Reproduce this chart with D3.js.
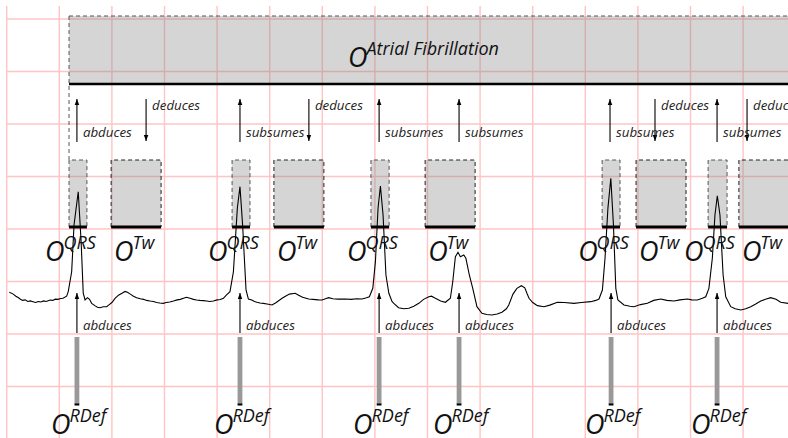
<!DOCTYPE html>
<html><head><meta charset="utf-8">
<script src="https://cdn.jsdelivr.net/npm/d3@7"></script>
<style>body{margin:0;background:#fff} svg{display:block}</style>
</head><body>
<svg id="c" width="788" height="438"></svg>
<script>
// ---- data (time in ms, amplitude in mV) ----
const ecgSamples = [[10,-0.103],[25,-0.12],[35,-0.14],[45,-0.155],[51,-0.167],[60,-0.18],[70,-0.175],[80,-0.19],[90,-0.185],[100,-0.192],[110,-0.2],[120,-0.19],[130,-0.195],[140,-0.185],[150,-0.19],[165,-0.176],[175,-0.18],[185,-0.168],[195,-0.17],[205,-0.162],[214,-0.16],[228,-0.14],[234,-0.097],[247,0.093],[256,0.538],[272,0.855],[283,0.379],[291,-0.11],[298,-0.176],[307,-0.154],[315,-0.17],[323,-0.208],[335,-0.23],[345,-0.245],[355,-0.25],[367,-0.24],[380,-0.24],[390,-0.22],[400,-0.2],[412,-0.16],[425,-0.13],[440,-0.11],[450,-0.095],[459,-0.103],[470,-0.12],[482,-0.14],[494,-0.154],[508,-0.165],[520,-0.17],[532,-0.18],[545,-0.186],[558,-0.19],[570,-0.2],[582,-0.205],[595,-0.208],[607,-0.2],[620,-0.195],[634,-0.186],[648,-0.175],[660,-0.17],[672,-0.16],[684,-0.15],[697,-0.16],[710,-0.17],[722,-0.176],[735,-0.18],[748,-0.182],[760,-0.186],[772,-0.19],[786,-0.186],[800,-0.175],[812,-0.172],[824,-0.16],[835,-0.13],[849,-0.097],[862,0.093],[877,0.7],[887,0.903],[897,0.538],[910,-0.081],[919,-0.167],[932,-0.176],[942,-0.19],[951,-0.198],[963,-0.205],[976,-0.208],[990,-0.215],[1009,-0.224],[1025,-0.2],[1047,-0.16],[1060,-0.14],[1075,-0.12],[1097,-0.112],[1110,-0.13],[1125,-0.15],[1148,-0.167],[1165,-0.17],[1185,-0.175],[1199,-0.176],[1212,-0.165],[1224,-0.154],[1240,-0.165],[1260,-0.168],[1288,-0.167],[1310,-0.17],[1330,-0.165],[1351,-0.167],[1368,-0.155],[1379,-0.145],[1392,-0.065],[1402,0.189],[1412,0.7],[1421,0.91],[1431,0.633],[1442,0.062],[1453,-0.112],[1465,-0.19],[1472,-0.208],[1490,-0.25],[1510,-0.26],[1529,-0.255],[1548,-0.235],[1567,-0.208],[1585,-0.17],[1605,-0.145],[1615,-0.14],[1630,-0.16],[1650,-0.185],[1668,-0.198],[1687,-0.16],[1696,-0.002],[1706,0.236],[1716,0.278],[1725,0.236],[1738,0.252],[1746,0.221],[1759,0.062],[1772,-0.065],[1788,-0.24],[1807,-0.303],[1825,-0.315],[1845,-0.319],[1865,-0.31],[1883,-0.293],[1900,-0.26],[1909,-0.224],[1925,-0.12],[1940,-0.065],[1957,-0.04],[1970,-0.06],[1978,-0.112],[1986,-0.16],[2000,-0.2],[2018,-0.23],[2043,-0.24],[2065,-0.225],[2094,-0.198],[2120,-0.2],[2157,-0.208],[2185,-0.2],[2221,-0.192],[2240,-0.18],[2252,-0.167],[2265,-0.081],[2275,0.221],[2286,0.697],[2297,0.983],[2307,0.538],[2316,-0.065],[2324,-0.176],[2347,-0.224],[2370,-0.235],[2385,-0.24],[2410,-0.22],[2436,-0.208],[2460,-0.18],[2487,-0.167],[2510,-0.18],[2537,-0.186],[2560,-0.175],[2588,-0.167],[2605,-0.175],[2626,-0.176],[2645,-0.16],[2658,-0.145],[2670,-0.065],[2683,0.221],[2693,0.633],[2702,0.817],[2712,0.633],[2724,0.062],[2734,-0.145],[2753,-0.24],[2770,-0.26],[2791,-0.271],[2810,-0.26],[2829,-0.24],[2848,-0.215],[2867,-0.186],[2885,-0.17],[2905,-0.154],[2925,-0.17],[2943,-0.198],[2971,-0.208]];

const qrsStart = [237, 857, 1385, 2264, 2667];
const qrsEnd   = [305, 925, 1454, 2332, 2739];
const twStart  = [397, 1016, 1591, 2393, 2784];
const twEnd    = [587, 1206, 1781, 2583, 2975];
const afSpan   = [237, 3000];
const afName   = "Atrial Fibrillation";

const upArrowTime  = [267, 887, 1416, 1720, 2294, 2701];
const upArrowLabel = ["abduces", "subsumes", "subsumes", "subsumes", "subsumes", "subsumes"];
const downArrowTime  = [530, 1149, 2465, 2815];
const downArrowLabel = ["deduces", "deduces", "deduces", "deduces"];
const rdefTime  = [267, 887, 1416, 1720, 2298, 2701];
const rdefArrowLabel = "abduces";

const gridTimes = d3.range(0, 3000, 200);
const gridMv = [-1.5, -1, -0.5, 0, 0.5, 1, 1.5, 2, 2.5];

// ---- scales ----
const x = d3.scaleLinear().domain([0, 3000]).range([6.7, 795.7]);
const y = d3.scaleLinear().domain([0, 0.5]).range([281.5, 229]);

const svg = d3.select("#c");
const FONT = "'Open Sans', 'DejaVu Sans', sans-serif";

// arrow marker
const defs = svg.append("defs");
defs.append("marker").attr("id", "ah").attr("viewBox", "0 0 8 8")
  .attr("refX", 8).attr("refY", 4).attr("markerWidth", 7).attr("markerHeight", 6)
  .attr("markerUnits", "userSpaceOnUse").attr("orient", "auto")
  .append("path").attr("d", "M0,1 L8,4 L0,7 z").attr("fill", "#000");

// ---- grid ----
const grid = svg.append("g").attr("stroke", "#ffc4c4").attr("stroke-width", 1.4);
grid.selectAll("line.v").data(gridTimes).join("line").attr("class", "v")
  .attr("x1", d => x(d)).attr("x2", d => x(d)).attr("y1", 6).attr("y2", 438);
grid.selectAll("line.h").data(gridMv).join("line").attr("class", "h")
  .attr("x1", x(0)).attr("x2", 788).attr("y1", d => y(d)).attr("y2", d => y(d));

// ---- AF box ----
const afTop = 16, afBottom = 84;
svg.append("rect").attr("x", x(afSpan[0])).attr("y", afTop)
  .attr("width", x(afSpan[1]) - x(afSpan[0])).attr("height", afBottom - afTop)
  .attr("fill", "#808080").attr("fill-opacity", 0.33);
svg.append("line").attr("x1", x(afSpan[0])).attr("x2", x(afSpan[1])).attr("y1", afTop).attr("y2", afTop)
  .attr("stroke", "#555").attr("stroke-dasharray", "4,3");
svg.append("line").attr("x1", x(afSpan[0])).attr("x2", x(afSpan[0])).attr("y1", afTop).attr("y2", 160)
  .attr("stroke", "#555").attr("stroke-dasharray", "4,3");
svg.append("line").attr("x1", x(afSpan[0])).attr("x2", x(afSpan[1])).attr("y1", afBottom).attr("y2", afBottom)
  .attr("stroke", "#000").attr("stroke-width", 2.6);

// ---- QRS / Tw boxes ----
const boxTop = 160, boxBottom = 227;
const boxes = [];
qrsStart.forEach((s, i) => boxes.push({s, e: qrsEnd[i], type: "QRS"}));
twStart.forEach((s, i) => boxes.push({s, e: twEnd[i], type: "Tw"}));
const bg = svg.append("g");
bg.selectAll("rect").data(boxes).join("rect")
  .attr("x", d => x(d.s)).attr("y", boxTop).attr("width", d => x(d.e) - x(d.s)).attr("height", boxBottom - boxTop)
  .attr("fill", "#808080").attr("fill-opacity", 0.33);
bg.selectAll("path.b").data(boxes).join("path").attr("class", "b")
  .attr("d", d => `M${x(d.s)},${boxBottom}V${boxTop}H${x(d.e)}V${boxBottom}`)
  .attr("fill", "none").attr("stroke", d => d.type === "QRS" ? "#555" : "#222")
  .attr("stroke-dasharray", "4,3");
bg.selectAll("line.bb").data(boxes).join("line").attr("class", "bb")
  .attr("x1", d => x(d.s)).attr("x2", d => x(d.e)).attr("y1", boxBottom).attr("y2", boxBottom)
  .attr("stroke", "#000").attr("stroke-width", 3);

// ---- RDef bars ----
const rg = svg.append("g");
rg.selectAll("rect").data(rdefTime).join("rect")
  .attr("x", d => x(d) - 2.4).attr("y", 337).attr("width", 4.8).attr("height", 67).attr("fill", "#999");
rg.selectAll("line").data(rdefTime).join("line")
  .attr("x1", d => x(d) - 2.4).attr("x2", d => x(d) + 2.4).attr("y1", 404.5).attr("y2", 404.5)
  .attr("stroke", "#000").attr("stroke-width", 2);

// ---- ECG ----
svg.append("path").datum(ecgSamples)
  .attr("d", d3.line().x(d => x(d[0])).y(d => y(d[1])))
  .attr("fill", "none").attr("stroke", "#000").attr("stroke-width", 1.1);

// ---- arrows ----
const ag = svg.append("g").attr("stroke", "#000").attr("stroke-width", 1.1);
ag.selectAll("line.up").data(upArrowTime).join("line").attr("class", "up")
  .attr("x1", d => x(d)).attr("x2", d => x(d)).attr("y1", 142).attr("y2", 99).attr("marker-end", "url(#ah)");
ag.selectAll("line.dn").data(downArrowTime).join("line").attr("class", "dn")
  .attr("x1", d => x(d)).attr("x2", d => x(d)).attr("y1", 99).attr("y2", 141).attr("marker-end", "url(#ah)");
ag.selectAll("line.rd").data(rdefTime).join("line").attr("class", "rd")
  .attr("x1", d => x(d)).attr("x2", d => x(d)).attr("y1", 333).attr("y2", 293).attr("marker-end", "url(#ah)");

const tg = svg.append("g").attr("font-family", FONT).attr("font-style", "italic")
  .attr("font-size", 13.3).attr("fill", "#222");
tg.selectAll("text.up").data(upArrowTime).join("text").attr("class", "up")
  .attr("x", d => x(d) + 6).attr("y", 137).text((d, i) => upArrowLabel[i]);
tg.selectAll("text.dn").data(downArrowTime).join("text").attr("class", "dn")
  .attr("x", d => x(d) + 6).attr("y", 110).text((d, i) => downArrowLabel[i]);
tg.selectAll("text.rd").data(rdefTime).join("text").attr("class", "rd")
  .attr("x", d => x(d) + 6).attr("y", 330).text(rdefArrowLabel);

// ---- big labels ----
function obsLabel(px, py, sup) {
  const t = svg.append("text").attr("x", px).attr("y", py)
    .attr("font-family", FONT).attr("font-style", "italic").attr("fill", "#111");
  t.append("tspan").attr("font-size", 27).text("O");
  t.append("tspan").attr("font-size", 18).attr("dy", -12).attr("dx", -1).text(sup);
}
obsLabel(348, 67, afName);
boxes.forEach(b => {
  if (b.type === "QRS") obsLabel(x(b.s) - 24, 261, "QRS");
  else obsLabel(x(b.s) + 3, 261, "Tw");
});
rdefTime.forEach(t => obsLabel(x(t) - 26, 434, "RDef"));
</script>
</body></html>
